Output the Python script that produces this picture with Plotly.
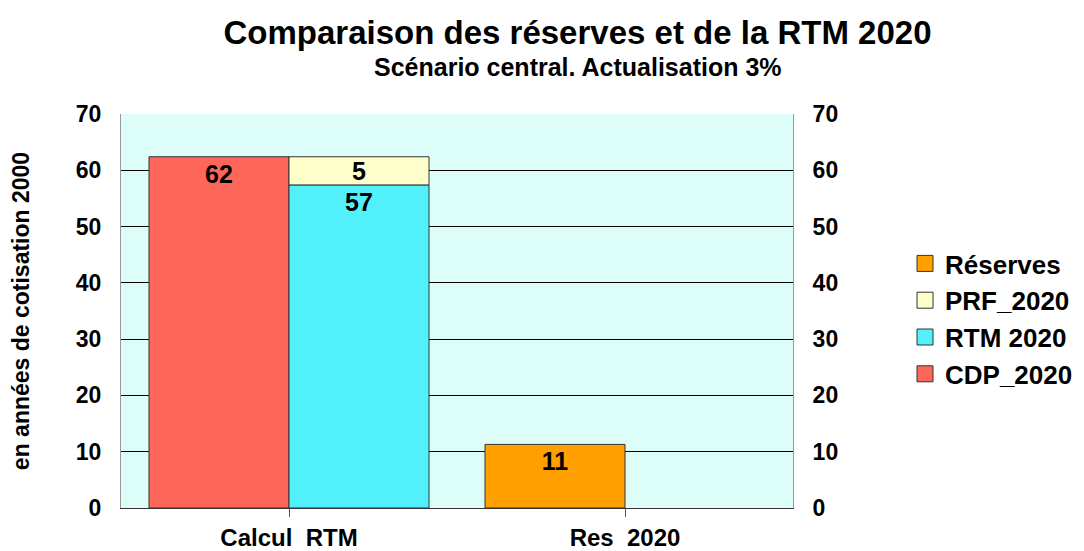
import plotly.graph_objects as go

categories = ["Calcul\u00a0\u00a0RTM", "Res\u00a0\u00a02020"]
cdp_2020 = [62.4, None]
rtm_2020 = [57.4, None]
prf_2020 = [5.0, None]
reserves = [None, 11.3]

series_names = ["Réserves", "PRF_2020", "RTM 2020", "CDP_2020"]
colors = {"Réserves": "#FFA000", "PRF_2020": "#FFFFCC", "RTM 2020": "#52F0FA", "CDP_2020": "#FF665A"}

FONT = "Liberation Sans, Arial, sans-serif"
BW = 140 / 336
line = dict(color="#333333", width=1)
tf = dict(family=FONT, size=25, color="black", weight="bold")

W, H = 1076, 543  # page body has an 8px margin


def labels(vals):
    return [f"{v:.0f}" if v is not None else "" for v in vals]


fig = go.Figure()
common = dict(width=BW, textposition="inside", constraintext="none", textangle=0, textfont=tf, showlegend=False)
fig.add_bar(x=categories, y=cdp_2020, name="CDP_2020", marker=dict(color=colors["CDP_2020"], line=line),
            offset=-BW, text=labels(cdp_2020), insidetextanchor="end", **common)
fig.add_bar(x=categories, y=rtm_2020, name="RTM 2020", marker=dict(color=colors["RTM 2020"], line=line),
            offset=0, text=labels(rtm_2020), insidetextanchor="end", **common)
fig.add_bar(x=categories, y=prf_2020, base=rtm_2020, name="PRF_2020", marker=dict(color=colors["PRF_2020"], line=line),
            offset=0, text=labels(prf_2020), insidetextanchor="middle", **common)
fig.add_bar(x=categories, y=reserves, name="Réserves", marker=dict(color=colors["Réserves"], line=line),
            offset=-BW, text=labels(reserves), insidetextanchor="end", **common)

# legend entries
for n in series_names:
    fig.add_scatter(x=[None], y=[None], mode="markers", name=n,
                    marker=dict(symbol="square", size=26, color=colors[n], line=dict(color="#333333", width=1)))

fig.update_layout(
    width=W, height=H,
    barmode="overlay",
    paper_bgcolor="white",
    plot_bgcolor="#DDFDF8",
    margin=dict(l=113, r=291, t=106, b=43, autoexpand=False),
    font=dict(family=FONT, color="black"),
    title=dict(
        text="<b>Comparaison des réserves et de la RTM 2020</b>",
        x=569.5 / W, xanchor="center", y=1 - 24 / H, yanchor="middle", xref="container", yref="container",
        font=dict(family=FONT, size=33, color="black"),
    ),
    annotations=[dict(
        text="<b>Scénario central. Actualisation 3%</b>", xref="paper", yref="paper",
        x=(578 - 121) / 672, y=1 + (114 - 67) / 394, xanchor="center", yanchor="middle", showarrow=False,
        font=dict(family=FONT, size=25, color="black"),
    )],
    legend=dict(
        xref="container", yref="container",
        x=897 / W, xanchor="left", y=1 - 311 / H, yanchor="middle",
        font=dict(family=FONT, size=26, color="black", weight="bold"),
        itemsizing="trace", bgcolor="rgba(0,0,0,0)", tracegroupgap=0,
    ),
    xaxis=dict(
        range=[-0.5, 1.5], showgrid=False, showline=True, linecolor="#333333", linewidth=1,
        ticks="outside", ticklen=8, tickcolor="#555555", automargin=False,
        tickfont=dict(family=FONT, size=24, color="black", weight="bold"),
    ),
    yaxis=dict(
        range=[0, 70], dtick=10, showgrid=True, gridcolor="black", gridwidth=1,
        showline=True, linecolor="#999999", linewidth=1, zeroline=False,
        ticks="", ticklabelstandoff=14, automargin=False,
        tickfont=dict(family=FONT, size=23, color="black", weight="bold"),
        title=dict(text="<b>en années de cotisation 2000</b>", font=dict(family=FONT, size=23, color="black"), standoff=42),
    ),
    yaxis2=dict(
        range=[0, 70], dtick=10, overlaying="y", side="right", showgrid=False,
        showline=True, linecolor="#999999", linewidth=1, zeroline=False, ticks="",
        ticklabelstandoff=14, automargin=False,
        tickfont=dict(family=FONT, size=23, color="black", weight="bold"),
    ),
)
fig.add_scatter(x=[None], y=[None], yaxis="y2", showlegend=False, hoverinfo="skip")

fig.write_html("out.html")
